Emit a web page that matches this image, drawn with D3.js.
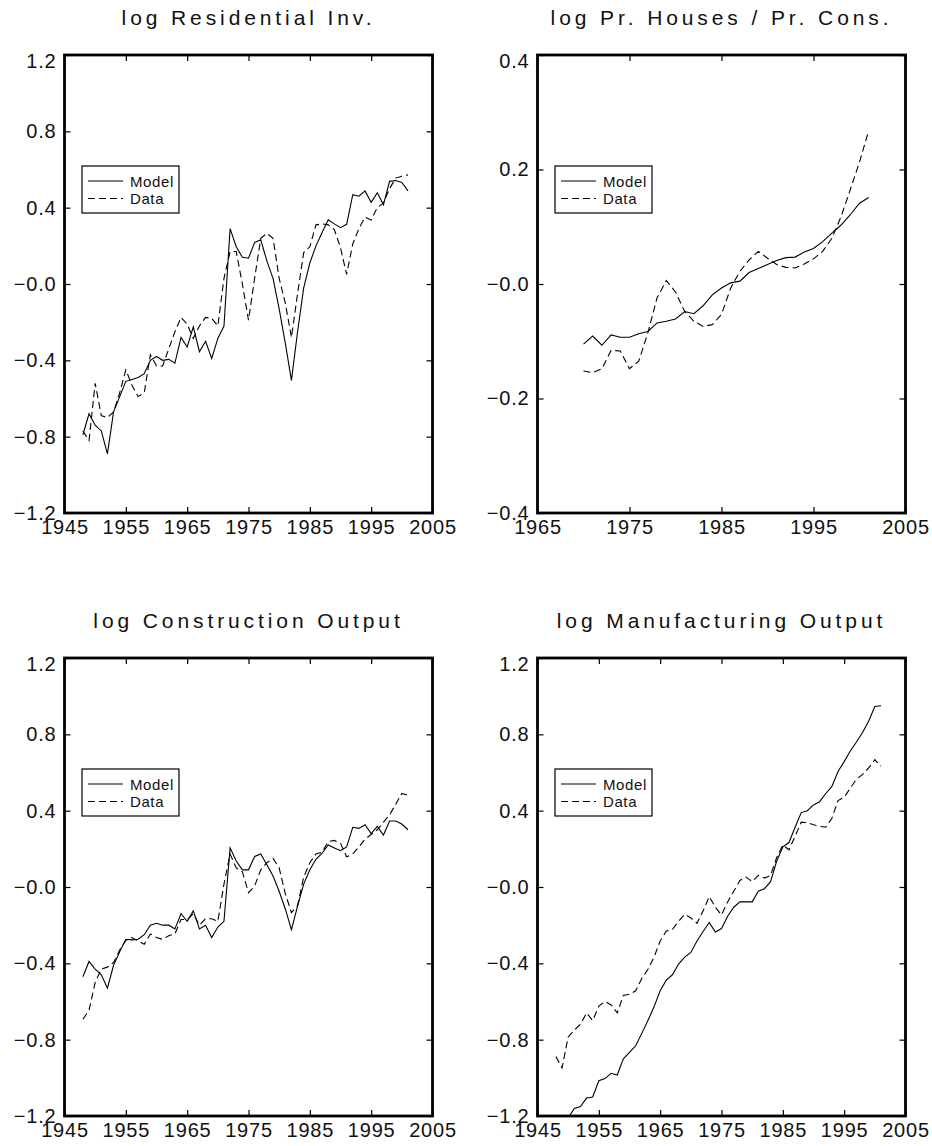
<!DOCTYPE html>
<html>
<head>
<meta charset="utf-8">
<script src="https://cdn.jsdelivr.net/npm/d3@7"></script>
<style>
  body { margin: 0; background: #fff; }
  svg { display: block; }
  text { font-family: "Liberation Sans", Arial, sans-serif; fill: #111; }
</style>
</head>
<body>
<svg id="chart" width="932" height="1146"></svg>
<script>
// Annual series, model vs. data
const yearsLong = d3.range(1948, 2002);   // 1948–2001
const yearsPrice = d3.range(1970, 2002);  // 1970–2001

const resInvModel = [
  -0.79, -0.68, -0.74, -0.77, -0.89, -0.67, -0.59, -0.51, -0.50, -0.49,
  -0.47, -0.40, -0.38, -0.40, -0.395, -0.415, -0.28, -0.33, -0.225, -0.355,
  -0.30, -0.39, -0.285, -0.22, 0.29, 0.195, 0.14, 0.135, 0.218, 0.232,
  0.12, 0.03, -0.13, -0.31, -0.505, -0.25, -0.02, 0.11, 0.20, 0.27,
  0.336, 0.315, 0.295, 0.313, 0.468, 0.46, 0.488, 0.428, 0.478, 0.416,
  0.538, 0.542, 0.532, 0.488
];
const resInvData = [
  -0.77, -0.82, -0.52, -0.69, -0.70, -0.67, -0.57, -0.45, -0.53, -0.59,
  -0.57, -0.37, -0.43, -0.43, -0.34, -0.25, -0.175, -0.21, -0.285, -0.22,
  -0.175, -0.18, -0.22, 0.03, 0.17, 0.17, 0.0, -0.19, 0.03, 0.24,
  0.265, 0.24, 0.03, -0.10, -0.28, -0.05, 0.165, 0.195, 0.31, 0.315,
  0.31, 0.285, 0.19, 0.05, 0.21, 0.29, 0.35, 0.335, 0.40, 0.425,
  0.50, 0.555, 0.565, 0.572
];

const priceModel = [
  -0.105, -0.091, -0.107, -0.089, -0.093, -0.093, -0.087, -0.083, -0.068, -0.065,
  -0.061, -0.048, -0.052, -0.038, -0.019, -0.007, 0.002, 0.005, 0.020, 0.027,
  0.034, 0.041, 0.046, 0.047, 0.056, 0.062, 0.074, 0.089, 0.103, 0.121,
  0.141, 0.151
];
const priceData = [
  -0.152, -0.155, -0.148, -0.116, -0.117, -0.148, -0.135, -0.085, -0.024, 0.006,
  -0.014, -0.048, -0.065, -0.074, -0.071, -0.053, -0.007, 0.022, 0.042, 0.057,
  0.045, 0.034, 0.029, 0.028, 0.035, 0.044, 0.057, 0.080, 0.118, 0.165,
  0.213, 0.268
];

const constrModel = [
  -0.47, -0.39, -0.43, -0.46, -0.53, -0.41, -0.34, -0.274, -0.277, -0.274,
  -0.25, -0.20, -0.19, -0.20, -0.20, -0.22, -0.14, -0.18, -0.125, -0.22,
  -0.20, -0.265, -0.21, -0.18, 0.205, 0.136, 0.09, 0.09, 0.16, 0.173,
  0.117, 0.058, -0.022, -0.115, -0.224, -0.10, 0.015, 0.09, 0.145, 0.177,
  0.22, 0.205, 0.19, 0.21, 0.313, 0.307, 0.326, 0.28, 0.317, 0.272,
  0.346, 0.346, 0.33, 0.30
];
const constrData = [
  -0.693, -0.646, -0.50, -0.43, -0.42, -0.395, -0.33, -0.28, -0.265, -0.283,
  -0.30, -0.246, -0.265, -0.274, -0.255, -0.246, -0.17, -0.17, -0.14, -0.20,
  -0.166, -0.166, -0.18, 0.015, 0.173, 0.10, 0.08, -0.03, 0.005, 0.09,
  0.127, 0.15, 0.10, -0.035, -0.134, -0.097, 0.052, 0.127, 0.173, 0.183,
  0.238, 0.244, 0.229, 0.158, 0.173, 0.21, 0.251, 0.275, 0.30, 0.34,
  0.378, 0.434, 0.49, 0.48
];

const manufModel = [
  -1.32, -1.26, -1.21, -1.16, -1.15, -1.106, -1.10, -1.015, -1.004, -0.976,
  -0.985, -0.90, -0.866, -0.832, -0.767, -0.70, -0.628, -0.544, -0.488, -0.46,
  -0.404, -0.367, -0.343, -0.283, -0.233, -0.186, -0.236, -0.218, -0.153, -0.106,
  -0.078, -0.078, -0.078, -0.022, -0.009, 0.028, 0.136, 0.21, 0.233, 0.313,
  0.39, 0.40, 0.43, 0.447, 0.49, 0.527, 0.605, 0.657, 0.713, 0.76,
  0.81, 0.87, 0.946, 0.95
];
const manufData = [
  -0.888, -0.948, -0.786, -0.75, -0.72, -0.66, -0.70, -0.624, -0.60, -0.618,
  -0.66, -0.568, -0.562, -0.544, -0.479, -0.432, -0.367, -0.283, -0.231, -0.222,
  -0.18, -0.143, -0.162, -0.19, -0.125, -0.05, -0.106, -0.147, -0.078, -0.022,
  0.034, 0.052, 0.028, 0.061, 0.047, 0.061, 0.155, 0.22, 0.195, 0.266,
  0.34, 0.337, 0.326, 0.318, 0.313, 0.36, 0.453, 0.47, 0.518, 0.564,
  0.59, 0.624, 0.667, 0.633
];

// Axis ticks and their labels
const yearTicksLong = [1945, 1955, 1965, 1975, 1985, 1995, 2005];
const yearTicksPrice = [1965, 1975, 1985, 1995, 2005];
const logTicksWide = [-1.2, -0.8, -0.4, 0, 0.4, 0.8, 1.2];
const logTickLabelsWide = ["\u22121.2", "\u22120.8", "\u22120.4", "\u22120.0", "0.4", "0.8", "1.2"];
const logTicksNarrow = [-0.4, -0.2, 0, 0.2, 0.4];
const logTickLabelsNarrow = ["\u22120.4", "\u22120.2", "\u22120.0", "0.2", "0.4"];

const titles = [
  "log Residential Inv.",
  "log Pr. Houses / Pr. Cons.",
  "log Construction Output",
  "log Manufacturing Output"
];
const legendLabels = ["Model", "Data"];

const panels = [
  { title: titles[0], x: 64.5, y: 55, years: yearsLong, model: resInvModel, data: resInvData,
    xDomain: [1945, 2005], xTicks: yearTicksLong, yDomain: [-1.2, 1.2], yTicks: logTicksWide, yLabels: logTickLabelsWide },
  { title: titles[1], x: 537.5, y: 55, years: yearsPrice, model: priceModel, data: priceData,
    xDomain: [1965, 2005], xTicks: yearTicksPrice, yDomain: [-0.4, 0.4], yTicks: logTicksNarrow, yLabels: logTickLabelsNarrow },
  { title: titles[2], x: 64.5, y: 658, years: yearsLong, model: constrModel, data: constrData,
    xDomain: [1945, 2005], xTicks: yearTicksLong, yDomain: [-1.2, 1.2], yTicks: logTicksWide, yLabels: logTickLabelsWide },
  { title: titles[3], x: 537.5, y: 658, years: yearsLong, model: manufModel, data: manufData,
    xDomain: [1945, 2005], xTicks: yearTicksLong, yDomain: [-1.2, 1.2], yTicks: logTicksWide, yLabels: logTickLabelsWide }
];

const W = 368, H = 458, TICK = 6;
const svg = d3.select("#chart");

panels.forEach((p, i) => {
  const g = svg.append("g").attr("transform", `translate(${p.x},${p.y})`);
  const x = d3.scaleLinear().domain(p.xDomain).range([0, W]);
  const y = d3.scaleLinear().domain(p.yDomain).range([H, 0]);

  // title
  g.append("text")
    .attr("x", W / 2).attr("y", -30)
    .attr("text-anchor", "middle")
    .attr("font-size", 21)
    .attr("letter-spacing", 3.9)
    .text(p.title);

  // axes with inward ticks on all four sides
  const fmtY = d => p.yLabels[p.yTicks.indexOf(d)];
  const yMax = p.yDomain[1];
  const axes = [
    { ax: d3.axisBottom(x).tickValues(p.xTicks).tickFormat(d3.format("d")), t: `translate(0,${H})`, labels: true, pad: 7 },
    { ax: d3.axisTop(x).tickValues(p.xTicks), t: "translate(0,0)", labels: false },
    { ax: d3.axisLeft(y).tickValues(p.yTicks).tickFormat(fmtY), t: "translate(0,0)", labels: true, pad: 8 },
    { ax: d3.axisRight(y).tickValues(p.yTicks), t: `translate(${W},0)`, labels: false }
  ];
  axes.forEach((a, ai) => {
    const ag = g.append("g").attr("transform", a.t)
      .call(a.ax.tickSizeInner(-TICK).tickSizeOuter(0).tickPadding(a.pad || 0));
    ag.select(".domain").remove();
    ag.selectAll(".tick line").attr("stroke", "#000").attr("stroke-width", 1.2);
    if (!a.labels) { ag.selectAll(".tick text").remove(); return; }
    ag.selectAll(".tick text")
      .attr("font-size", 20)
      .attr("letter-spacing", 0.8)
      .attr("font-family", "Liberation Sans, Arial, sans-serif")
      .attr("fill", "#111");
    // top value label sits just inside the frame's upper edge
    if (ai === 2) ag.selectAll(".tick text").filter(d => d === yMax).attr("dy", "0.62em");
  });

  // clip so lines stay within the frame
  const clipId = `clip-${i}`;
  g.append("clipPath").attr("id", clipId)
    .append("rect").attr("width", W).attr("height", H);

  const line = d3.line().x((d, k) => x(p.years[k])).y(d => y(d));
  const lines = g.append("g").attr("clip-path", `url(#${clipId})`);
  lines.append("path").datum(p.model)
    .attr("d", line).attr("fill", "none")
    .attr("stroke", "#000").attr("stroke-width", 1.1);
  lines.append("path").datum(p.data)
    .attr("d", line).attr("fill", "none")
    .attr("stroke", "#000").attr("stroke-width", 1.1)
    .attr("stroke-dasharray", "7,4");

  // frame
  g.append("rect").attr("width", W).attr("height", H)
    .attr("fill", "none").attr("stroke", "#000").attr("stroke-width", 2.8);

  // legend
  const lg = g.append("g").attr("transform", "translate(17.5,111)");
  lg.append("rect").attr("width", 97).attr("height", 47)
    .attr("fill", "#fff").attr("stroke", "#000").attr("stroke-width", 1.2);
  legendLabels.forEach((lab, k) => {
    const ly = 15 + k * 17.5;
    lg.append("line").attr("x1", 6).attr("x2", 41).attr("y1", ly).attr("y2", ly)
      .attr("stroke", "#000").attr("stroke-width", 1.1)
      .attr("stroke-dasharray", k === 1 ? "7,4" : null);
    lg.append("text").attr("x", 48).attr("y", ly + 5.5)
      .attr("font-size", 15).attr("letter-spacing", 0.6).text(lab);
  });
});
</script>
</body>
</html>
